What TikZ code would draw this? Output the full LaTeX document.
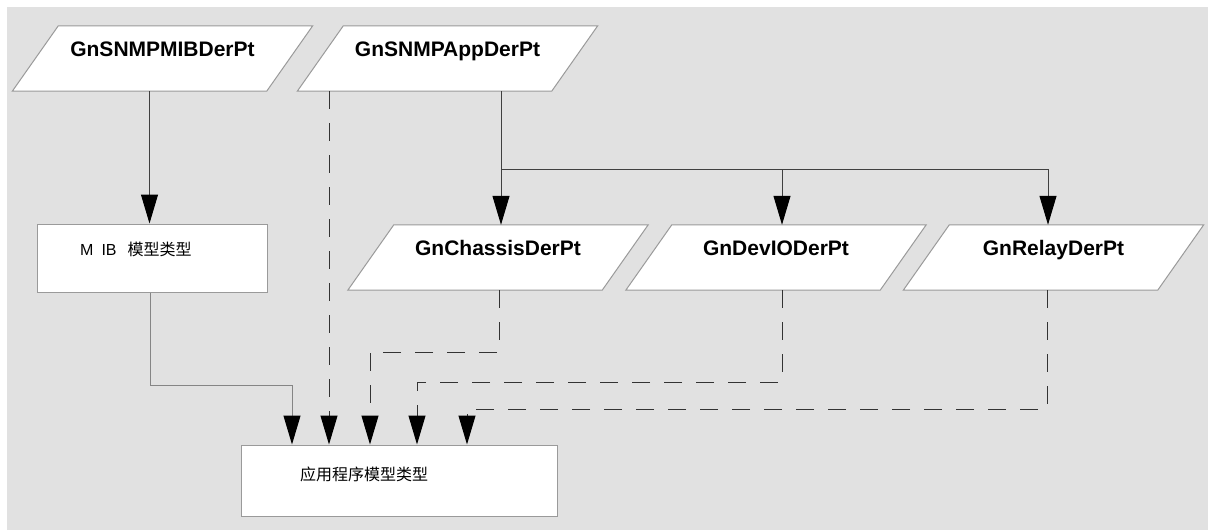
\documentclass[tikz,border=0pt]{standalone}
\usepackage{fontspec}
\setmainfont{Liberation Sans}
\newfontfamily\cjk{Noto Sans CJK SC}
\usetikzlibrary{arrows.meta,backgrounds}
\definecolor{bggray}{HTML}{E1E1E1}
\definecolor{bordergray}{HTML}{9A9A9A}
\definecolor{linedark}{HTML}{404040}
\definecolor{linemid}{HTML}{858585}
\definecolor{dashdark}{HTML}{333333}
\begin{document}
\begin{tikzpicture}[x=1pt,y=-1pt,
  parabox/.style={minimum width=254pt,minimum height=65pt,inner sep=0pt,
    font=\fontsize{21}{25}\selectfont\bfseries,text height=15.5pt,text depth=19.5pt},
  recbox/.style={draw=bordergray,fill=white,line width=1pt,inner sep=0pt},
  parashape/.style={draw=bordergray,fill=white,line width=1pt},
  arr/.style={-{Triangle[width=17pt,length=29pt,color=black]}},
  sline/.style={draw=linedark,line width=1pt},
  gline/.style={draw=linemid,line width=1pt},
  dline/.style={draw=dashdark,line width=1pt,dash pattern=on 18pt off 14pt},
  cjktext/.style={anchor=west,inner sep=0pt,font=\fontsize{16}{19}\selectfont},
]
\useasboundingbox (0,0) rectangle (1208,530);

% parallelogram nodes
\node[parabox] (b1)  at (162.5,58.5)  {GnSNMPMIBDerPt};
\node[parabox] (b2)  at (447.5,58.5)  {GnSNMPAppDerPt};
\node[parabox] (ch)  at (498,257.5)   {GnChassisDerPt};
\node[parabox] (dev) at (776,257.5)   {GnDevIODerPt};
\node[parabox] (rel) at (1053.5,257.5){GnRelayDerPt};

% rectangle nodes
\node[recbox,minimum width=230pt,minimum height=68pt] (mib) at (152,258) {};
\node[cjktext] (mibt) at (80,249) {M\hspace{8pt}IB\hspace{11pt}{\cjk 模型类型}};
\node[recbox,minimum width=316pt,minimum height=71pt] (app) at (399,480.5) {};
\node[cjktext] (appt) at (300,474) {\cjk 应用程序模型类型};

\begin{scope}[on background layer]
  \fill[bggray] (7,7) rectangle (1208,530);
  \foreach \n in {b1,b2,ch,dev,rel}
    \draw[parashape] ([xshift=23pt]\n.north west) -- ([xshift=23pt]\n.north east)
      -- ([xshift=-23pt]\n.south east) -- ([xshift=-23pt]\n.south west) -- cycle;
\end{scope}

% solid connectors
\draw[sline,arr] ([xshift=-13pt]b1.south) -- ([xshift=-2.5pt]mib.north);
\coordinate (jy) at (0,169);
\coordinate (s2) at ([xshift=53.5pt]b2.south);
\coordinate (j) at (s2 |- jy);
\draw[sline] (s2) -- (j);
\draw[sline,arr] (j) -- ([xshift=3pt]ch.north);
\draw[sline,arr] (j) -| ([xshift=6pt]dev.north);
\draw[sline,arr] (j) -| ([xshift=-5.5pt]rel.north);
\draw[gline,arr] ([xshift=-2pt]mib.south) -- ++(0,93) -| ([xshift=-107pt]app.north);

% dashed connectors
\draw[dline,arr] ([xshift=-118.5pt]b2.south) -- ([xshift=-70pt]app.north);
\draw[dline,arr] ([xshift=1pt]ch.south) -- ++(0,62) -| ([xshift=-29pt]app.north);
\draw[dline,arr] ([xshift=6pt]dev.south) -- ++(0,92) -| ([xshift=18pt]app.north);
\draw[dline,arr] ([xshift=-6.5pt]rel.south) -- ++(0,119) -| ([xshift=68pt]app.north);
\end{tikzpicture}
\end{document}
